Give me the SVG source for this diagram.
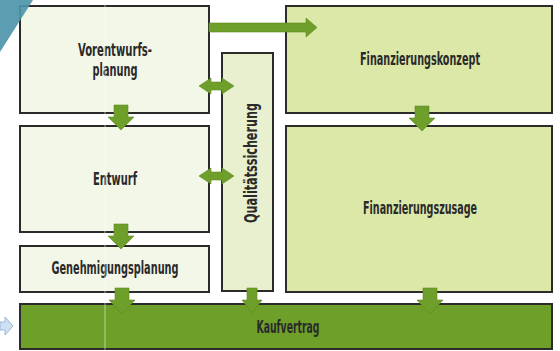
<svg xmlns="http://www.w3.org/2000/svg" width="560" height="351" viewBox="0 0 560 351">
<style>
.box{stroke:#2b2b2b;stroke-width:2}
.pale{fill:#f3f7e8}
.lg{fill:#dce8a8}
.qs{fill:#e8f0cf}
.kv{fill:#6d9f29}
.arr{fill:#6f9f2b;stroke:#5e8a22;stroke-width:0.6}
.t{font-family:"DejaVu Sans Condensed","DejaVu Sans",sans-serif;font-stretch:condensed;font-weight:bold;font-size:17px;fill:#2a2a2a;text-anchor:middle}
</style>
<rect x="0" y="0" width="560" height="351" fill="#ffffff"/>
<g id="vorentwurf"><rect class="box pale" x="20" y="6" width="189" height="107"/>
<text class="t" x="115" y="56" textLength="74" lengthAdjust="spacingAndGlyphs">Vorentwurfs-</text>
<text class="t" x="115" y="76" textLength="45" lengthAdjust="spacingAndGlyphs">planung</text></g>
<g id="entwurf"><rect class="box pale" x="20" y="126" width="189" height="106"/>
<text class="t" x="115" y="185" textLength="44" lengthAdjust="spacingAndGlyphs">Entwurf</text></g>
<g id="genehmigung"><rect class="box pale" x="20" y="246" width="189" height="46"/>
<text class="t" x="115" y="274" textLength="127" lengthAdjust="spacingAndGlyphs">Genehmigungsplanung</text></g>
<g id="qualitaet"><rect class="box qs" x="222" y="53" width="51" height="238"/>
<text class="t" transform="translate(257,163) rotate(-90)" x="0" y="0" textLength="120" lengthAdjust="spacingAndGlyphs">Qualitätssicherung</text></g>
<g id="finkonzept"><rect class="box lg" x="286" y="6" width="266" height="107"/>
<text class="t" x="420" y="65" textLength="120" lengthAdjust="spacingAndGlyphs">Finanzierungskonzept</text></g>
<g id="finzusage"><rect class="box lg" x="286" y="126" width="266" height="166"/>
<text class="t" x="420" y="214" textLength="114" lengthAdjust="spacingAndGlyphs">Finanzierungszusage</text></g>
<g id="kaufvertrag"><rect class="box kv" x="20" y="304" width="532" height="45" stroke="#33451a"/>
<text class="t" x="288" y="333" textLength="63" lengthAdjust="spacingAndGlyphs">Kaufvertrag</text></g>
<g id="connectors">
<polygon class="arr" points="209,23 306,23 306,18 317,27.5 306,37 306,32 209,32"/>
<polygon class="arr" points="199,86 211,78 211,82 222,82 222,78 234,86 222,94 222,90 211,90 211,94"/>
<polygon class="arr" points="199,176 211,168 211,172 222,172 222,168 234,176 222,184 222,180 211,180 211,184"/>
<polygon class="arr" points="114,105 128,105 128,117 134,117 121,130 108,117 114,117"/>
<polygon class="arr" points="114,224 128,224 128,236 134,236 121,249 108,236 114,236"/>
<polygon class="arr" points="115,288 129,288 129,300 135,300 122,314 109,300 115,300"/>
<polygon class="arr" points="247,288 257,288 257,300 262,300 252,313 242,300 247,300"/>
<polygon class="arr" points="415,106 429,106 429,118 435,118 422,131 409,118 415,118"/>
<polygon class="arr" points="423,288 437,288 437,300 443,300 430,314 417,300 423,300"/>
</g>
<line x1="105" y1="0" x2="105" y2="351" stroke="#ffffff" stroke-opacity="0.55" stroke-width="1"/>
<polygon points="0,0 33,0 0,52" fill="#4e95ab" fill-opacity="0.92"/>
<polygon points="0,322 5,322 5,317 13,326 5,335 5,330 0,330" fill="#cfe0f2" stroke="#97b8d8" stroke-width="1"/>
</svg>
